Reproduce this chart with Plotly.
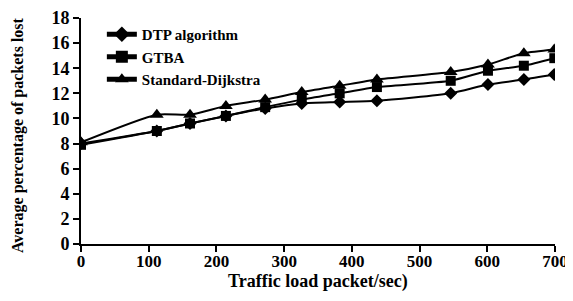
import plotly.graph_objects as go

x_vals = [0, 112, 161, 214, 272, 326, 382, 437, 546, 601, 654, 699]
dtp = [8.0, 9.0, 9.6, 10.2, 10.8, 11.2, 11.3, 11.4, 12.0, 12.7, 13.1, 13.5]
gtba = [7.9, 9.0, 9.6, 10.2, 10.9, 11.5, 12.0, 12.5, 13.0, 13.8, 14.2, 14.8]
dijkstra = [8.1, 10.3, 10.3, 11.0, 11.5, 12.1, 12.6, 13.1, 13.7, 14.3, 15.2, 15.5]

x_ticks = [0, 100, 200, 300, 400, 500, 600, 700]
y_ticks = [0, 2, 4, 6, 8, 10, 12, 14, 16, 18]

font_family = "Liberation Serif"

fig = go.Figure()
series = [
    ("DTP algorithm", dtp, "diamond", 10),
    ("GTBA", gtba, "square", 10),
    ("Standard-Dijkstra", dijkstra, "triangle-up", 12),
]
for name, vals, sym, size in series:
    fig.add_trace(go.Scatter(
        x=x_vals, y=vals, name="<b>%s</b>" % name, mode="lines+markers",
        line=dict(color="black", width=2, shape="spline", smoothing=0.6),
        marker=dict(symbol=sym, size=size, color="black"),
    ))

# The page body has an 8px margin, so the figure is sized to fit the window.
fig.update_layout(
    width=565, height=293,
    margin=dict(l=73, r=18, t=10, b=57),
    paper_bgcolor="white", plot_bgcolor="white",
    font=dict(family=font_family, size=16, color="black"),
    showlegend=True,
    legend=dict(x=0.044, y=1.0, xanchor="left", yanchor="top",
                bgcolor="rgba(0,0,0,0)", font=dict(size=15, family=font_family),
                tracegroupgap=0, itemsizing="constant"),
    annotations=[
        dict(text="<b>Traffic load packet/sec)</b>", xref="paper", yref="paper",
             x=0.5, y=0, yshift=-37, xanchor="center", yanchor="middle",
             showarrow=False, font=dict(size=18, family=font_family)),
        dict(text="<b>Average percentage of packets lost</b>", xref="paper", yref="paper",
             x=0, y=0.5, xshift=-63, yshift=-4, textangle=-90, xanchor="center", yanchor="middle",
             showarrow=False, font=dict(size=16, family=font_family)),
    ],
)
fig.update_xaxes(
    range=[0, 700], tickvals=x_ticks, ticktext=["<b>%d</b>" % v for v in x_ticks],
    showline=True, linecolor="black", linewidth=2, ticks="outside",
    ticklen=6, tickwidth=2, tickcolor="black", showgrid=False, zeroline=False,
    tickfont=dict(size=17, family=font_family), automargin=False,
    ticklabelstandoff=-5,
)
fig.update_yaxes(
    range=[0, 18], tickvals=y_ticks, ticktext=["<b>%d</b>" % v for v in y_ticks],
    showline=True, linecolor="black", linewidth=2, ticks="outside",
    ticklen=6, tickwidth=2, tickcolor="black", showgrid=False, zeroline=False,
    tickfont=dict(size=18, family=font_family), automargin=False,
)

fig.write_html("out.html")
